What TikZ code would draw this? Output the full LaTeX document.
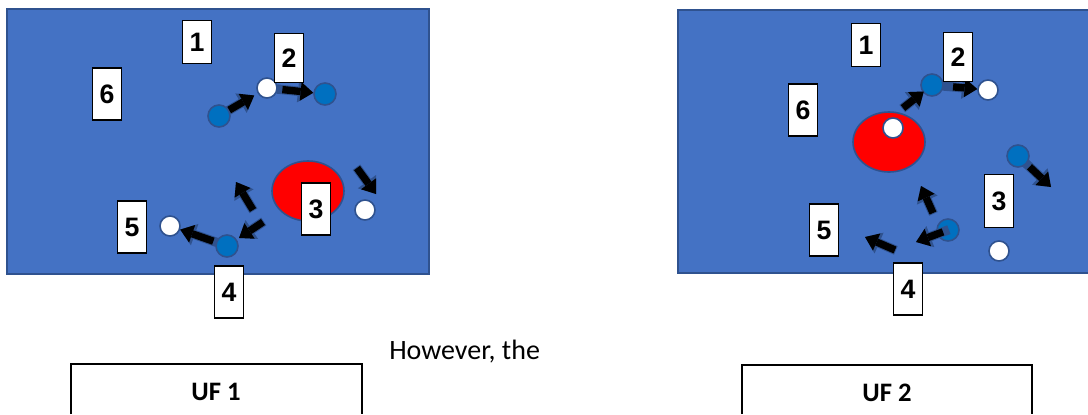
\documentclass[tikz,border=0pt]{standalone}
\usepackage{fontspec}
\setmainfont{Carlito}
\newfontfamily\digitfont{Liberation Sans}
\usetikzlibrary{arrows.meta,shapes.geometric}
\definecolor{pitch}{HTML}{4472C4}
\definecolor{pitchline}{HTML}{2F528F}
\definecolor{puck}{HTML}{0070C0}

\begin{document}
\begin{tikzpicture}[x=0.75pt,y=-0.75pt]
\tikzstyle{field}=[fill=pitch,draw=pitchline,line width=1.5pt]
\tikzstyle{numbox}=[draw,fill=white,line width=1.1pt,inner sep=0pt,minimum width=21.5pt,minimum height=39pt,font=\digitfont\bfseries\fontsize{20}{20}\selectfont]
\tikzstyle{bluedot}=[circle,fill=puck,draw=pitchline,line width=1.2pt,minimum size=16.5pt,inner sep=0pt]
\tikzstyle{whitedot}=[circle,fill=white,draw=pitchline,line width=1.2pt,minimum size=15pt,inner sep=0pt]
\tikzstyle{zone}=[ellipse,fill=red,draw=pitchline,line width=1.2pt,minimum width=54pt,minimum height=45pt,inner sep=0pt]
\tikzstyle{move}=[draw=black,line width=5.5pt,-{Triangle[length=9.5pt,width=14pt,line width=0pt]},preaction={draw=pitchline,line width=7pt,shorten <=-0.7pt,-{Triangle[length=11.5pt,width=17pt,line width=0pt]}}]
\tikzstyle{caption}=[inner sep=0pt,font=\fontsize{21}{25}\selectfont]
\useasboundingbox (0,0) rectangle (1088,414);
\draw[field] (7,9) rectangle (429,274);
\fill[pitch] (678,10) rectangle (1088,273);
\draw[pitchline,line width=1.5pt] (1088,10) -- (678,10) -- (678,273) -- (1088,273);
\node[zone] (redL) at (308,191) {};
\node[bluedot] (bL1) at (219,116) {};
\node[whitedot] (wL1) at (267,88) {};
\node[bluedot] (bL2) at (325,94) {};
\node[whitedot] (wL2) at (365,210) {};
\node[whitedot] (wL3) at (170,226) {};
\node[bluedot] (bL3) at (227,246) {};
\coordinate (a3s) at (357,168);
\coordinate (a3e) at (376,194);
\coordinate (a4s) at (263,222);
\coordinate (a5s) at (253,210);
\coordinate (a5e) at (236,182);
\draw[move,shorten >=3pt] (bL1) -- (wL1);
\draw[move,shorten <=3.5pt] (wL1) -- (bL2);
\draw[move] (a3s) -- (a3e);
\draw[move,shorten >=2pt] (a4s) -- (bL3);
\draw[move] (a5s) -- (a5e);
\draw[move,shorten <=2pt] (bL3) -- (wL3);
\node[zone] (redR) at (889,142) {};
\node[whitedot] (wR1) at (893,128) {};
\node[bluedot] (bR1) at (932,85) {};
\node[whitedot] (wR2) at (988,90) {};
\node[bluedot] (bR2) at (1018,156) {};
\node[bluedot] (bR3) at (948,230) {};
\node[whitedot] (wR3) at (999,251) {};
\coordinate (b1s) at (903,108);
\coordinate (b3e) at (1051,187);
\coordinate (b4e) at (916,242);
\coordinate (b5s) at (933,213);
\coordinate (b5e) at (921,186);
\coordinate (b6s) at (895,250);
\coordinate (b6e) at (865,237);
\draw[move,shorten >=-1pt] (b1s) -- (bR1);
\draw[move,shorten <=7pt] (bR1) -- (wR2);
\draw[move,shorten <=3pt] (bR2) -- (b3e);
\draw[move,shorten <=4pt] (bR3.center) -- (b4e);
\draw[move] (b5s) -- (b5e);
\draw[move] (b6s) -- (b6e);
\node[numbox,minimum height=32pt] (nL1) at (197,42) {1};
\node[numbox,minimum height=37pt] (nL2) at (289,58) {2};
\node[numbox] (nL6) at (107,94) {6};
\node[numbox] (nL3) at (316,209) {3};
\node[numbox] (nL5) at (132,227) {5};
\node[numbox] (nL4) at (229,292) {4};
\node[numbox,minimum height=32pt] (nR1) at (866,45) {1};
\node[numbox,minimum height=37pt] (nR2) at (958,57) {2};
\node[numbox] (nR6) at (803,110) {6};
\node[numbox,minimum height=40pt] (nR3) at (999,201) {3};
\node[numbox] (nR5) at (824,230) {5};
\node[numbox] (nR4) at (908,289) {4};
\node[caption,anchor=base west] (however) at (389,359) {However, the};
\draw[line width=1.2pt] (71,414) |- (362,364) -- (362,414);
\draw[line width=1.2pt] (742,414) |- (1032,365) -- (1032,414);
\node[caption,anchor=base,font=\bfseries\fontsize{20}{24}\selectfont] (uf1) at (216,400) {UF 1};
\node[caption,anchor=base,font=\bfseries\fontsize{20}{24}\selectfont] (uf2) at (887,401) {UF 2};
\end{tikzpicture}
\end{document}
